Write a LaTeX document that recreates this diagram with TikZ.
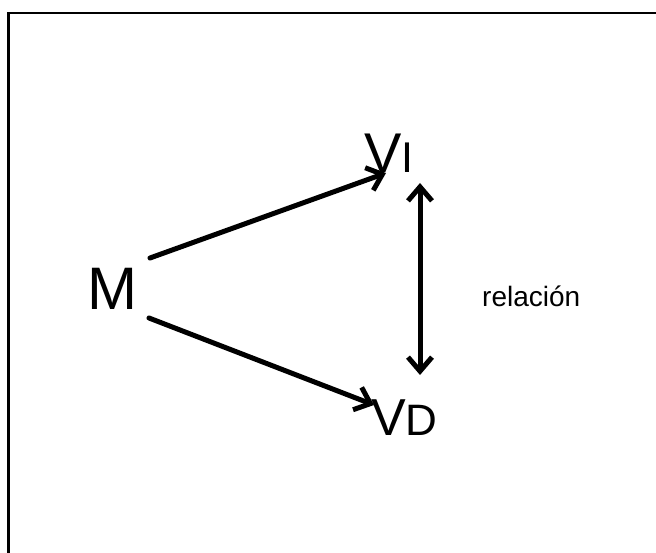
\documentclass[tikz,border=0pt]{standalone}
\usepackage{fontspec}
\setmainfont{Liberation Sans}
\usetikzlibrary{arrows.meta}
\begin{document}
\begin{tikzpicture}[x=1pt,y=-1pt,
  conn/.style={line width=5pt, line cap=round, -{Straight Barb[length=14pt,width=24pt,line width=5pt]}},
  biconn/.style={line width=5pt, {Straight Barb[length=14pt,width=24pt,line width=5pt]}-{Straight Barb[length=14pt,width=24pt,line width=5pt]}},
  lbl/.style={inner sep=0pt, anchor=base west}]
\useasboundingbox (0,0) rectangle (656,553);
\draw[line width=2.2pt] (8.5,600) -- (8.5,13) -- (700,13);
\node[lbl] (m) at (87.5,309) {\fontsize{60}{60}\selectfont M};
\node[lbl] (vi) at (364,173) {\fontsize{56}{56}\selectfont V\fontsize{43}{43}\selectfont I};
\node[lbl] (vd) at (371,435) {\fontsize{52}{52}\selectfont V\fontsize{44}{44}\selectfont D};
\node[lbl] (rel) at (482,307) {\fontsize{28}{28}\selectfont relación};
\coordinate (m1) at (150,258);
\coordinate (m2) at (149,318);
\coordinate (vi1) at (386,173);
\coordinate (vd1) at (374,405);
\coordinate (bt) at (420,183);
\coordinate (bb) at (420,375);
\draw[conn] (m1) -- (vi1);
\draw[conn] (m2) -- (vd1);
\draw[biconn] (bt) -- (bb);
\end{tikzpicture}
\end{document}
